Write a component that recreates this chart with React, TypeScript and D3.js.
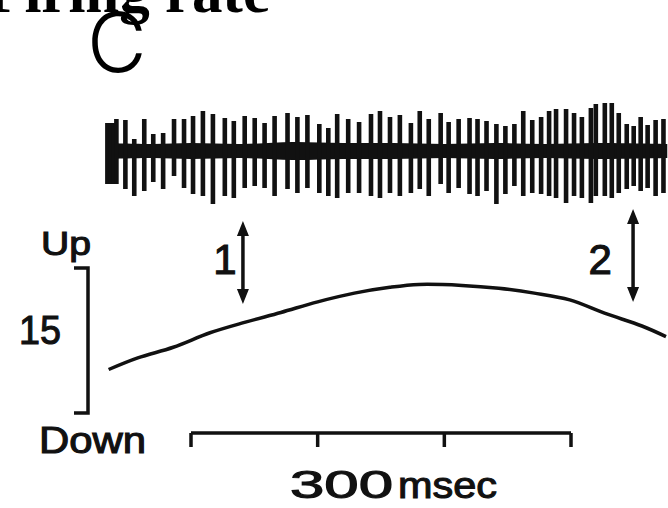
import React, { useEffect, useRef } from "react";
import * as d3 from "d3";

// spike train (time in ms relative to scale-bar start, amplitudes in trace units)
const spikeTimes = [
  -66.0, -63.6, -61.3, -58.9, -51.8, -44.8, -36.9, -29.8, -22.0, -13.4, -5.5, 1.6, 9.4, 17.3, 26.7, 33.8,
  42.4, 50.3, 58.1, 66.0, 76.2, 84.0, 91.9, 101.3, 108.4, 115.4, 124.1, 132.7, 142.1, 149.2,
  157.1, 164.9, 173.6, 180.6, 187.7, 197.1, 203.4, 211.3, 219.9, 226.2, 233.3, 241.1, 248.2, 255.3, 262.3,
  269.4, 276.4, 282.7, 288.2, 296.1, 302.4, 308.6, 315.7, 319.6, 326.7, 332.2, 337.7, 344.0, 349.5, 355.0,
  360.5, 366.8, 373.0,
];
const spikeUp = [
  28, 28, 28, 32, 31, 12, 32, 17, 18, 32, 32, 35, 40, 37, 33, 30,
  35, 33, 28, 35, 38, 34, 36, 27, 23, 37, 32, 29, 37, 40,
  34, 36, 28, 40, 32, 38, 29, 32, 33, 32, 30, 27, 25, 27, 40,
  31, 34, 40, 42, 42, 38, 34, 43, 47, 48, 48, 38, 27, 25, 34, 26, 31, 32,
];
const spikeDown = [
  33, 33, 33, 33, 38, 45, 40, 31, 38, 25, 37, 43, 45, 53, 45, 47,
  37, 35, 37, 45, 38, 42, 37, 42, 45, 47, 42, 42, 45, 47,
  42, 45, 42, 38, 45, 33, 42, 37, 43, 45, 40, 53, 43, 35, 45,
  42, 43, 45, 47, 52, 45, 47, 52, 45, 45, 47, 42, 38, 35, 40, 37, 45, 42,
];

// background noise band of the unit recording
const bandTimes = [-67, -30, 0, 40, 80, 120, 160, 200, 240, 280, 320, 376];
const bandHalf = [8, 7, 8, 7, 9, 8, 8, 7, 8, 7, 8, 7];

// eye position trace (deg)
const posTimes = [-65, -42, -14, 15, 43, 71, 100, 129, 157, 180, 214, 243, 271, 299, 327, 356, 375];
const posDeg = [4.5, 5.7, 6.8, 8.3, 9.4, 10.4, 11.5, 12.4, 13.0, 13.3, 13.2, 12.9, 12.4, 11.7, 10.3, 9.0, 7.9];

// events marked with arrows
const arrowTimes = [41, 349];
const arrowLabels = ["1", "2"];

// calibration
const scaleBarTicks = [0, 100, 200, 300];
const scaleBarLabel = "300";
const scaleBarUnit = "msec";
const calibDeg = 15;

const W = 668,
  H = 508;

const App = () => {
  const ref = useRef<SVGSVGElement>(null);

  useEffect(() => {
    const svg = d3.select(ref.current);
    svg.selectAll("*").remove();

    const x = d3.scaleLinear().domain([0, 300]).range([191, 571]);
    const yTrace = d3.scaleLinear().domain([-50, 50]).range([201, 101]);
    const yPos = d3.scaleLinear().domain([0, calibDeg]).range([413, 268]);
    const sans = "Liberation Sans, Arial, sans-serif";

    // title (cut off at the top of the figure)
    svg
      .append("text")
      .attr("x", 270)
      .attr("y", 12)
      .attr("text-anchor", "end")
      .attr("font-family", "Liberation Serif, Times New Roman, serif")
      .attr("font-weight", "bold")
      .attr("font-size", 61)
      .text("Firing rate");

    // panel letter
    svg
      .append("text")
      .attr("x", 87)
      .attr("y", 72)
      .attr("font-family", "Inter, sans-serif")
      .attr("font-weight", 300)
      .attr("font-size", 82)
      .text("C");

    // noise band
    const band = bandTimes.map((t, i) => ({ t, h: bandHalf[i] }));
    svg
      .append("path")
      .datum(band)
      .attr(
        "d",
        d3
          .area<{ t: number; h: number }>()
          .x((d) => x(d.t))
          .y0((d) => yTrace(-d.h))
          .y1((d) => yTrace(d.h))
          .curve(d3.curveCatmullRom)
      )
      .attr("fill", "#111");

    // spikes
    const spikes = spikeTimes.map((t, i) => ({ t, up: spikeUp[i], down: spikeDown[i] }));
    svg
      .append("g")
      .selectAll("rect")
      .data(spikes)
      .enter()
      .append("rect")
      .attr("x", (d) => x(d.t) - 2.3)
      .attr("width", 4.6)
      .attr("y", (d) => yTrace(d.up))
      .attr("height", (d) => yTrace(-d.down) - yTrace(d.up))
      .attr("fill", "#111");

    // eye position trace
    const pos = posTimes.map((t, i) => ({ t, v: posDeg[i] }));
    svg
      .append("path")
      .datum(pos)
      .attr(
        "d",
        d3
          .line<{ t: number; v: number }>()
          .x((d) => x(d.t))
          .y((d) => yPos(d.v))
          .curve(d3.curveCatmullRom)
      )
      .attr("fill", "none")
      .attr("stroke", "#111")
      .attr("stroke-width", 3.5);

    const label = (tx: number, ty: number, size: number, len: number | null, s: string, anchor = "start") => {
      const t = svg
        .append("text")
        .attr("x", tx)
        .attr("y", ty)
        .attr("text-anchor", anchor)
        .attr("font-family", sans)
        .attr("font-size", size)
        .attr("fill", "#111")
        .attr("stroke", "#111")
        .attr("stroke-width", 1.1)
        .text(s);
      if (len) t.attr("textLength", len).attr("lengthAdjust", "spacingAndGlyphs");
      return t;
    };

    // double-headed arrows
    const arrowTop = [221, 209];
    const arrowBottom = [304, 302];
    const labelDx = [-18, -33];
    arrowTimes.forEach((t, i) => {
      const ax = x(t);
      const g = svg.append("g");
      g.append("line")
        .attr("x1", ax)
        .attr("x2", ax)
        .attr("y1", arrowTop[i] + 6)
        .attr("y2", arrowBottom[i] - 6)
        .attr("stroke", "#111")
        .attr("stroke-width", 3.5);
      g.append("path")
        .attr("d", `M${ax},${arrowTop[i]} L${ax - 6},${arrowTop[i] + 15} L${ax + 6},${arrowTop[i] + 15} Z`)
        .attr("fill", "#111");
      g.append("path")
        .attr(
          "d",
          `M${ax},${arrowBottom[i]} L${ax - 6},${arrowBottom[i] - 15} L${ax + 6},${arrowBottom[i] - 15} Z`
        )
        .attr("fill", "#111");
      label(ax + labelDx[i], 274, 42, null, arrowLabels[i], "middle");
    });

    // vertical calibration bracket
    svg
      .append("path")
      .attr("d", `M74,${yPos(calibDeg)} H88 V${yPos(0)} H74`)
      .attr("fill", "none")
      .attr("stroke", "#111")
      .attr("stroke-width", 3.5);

    label(19, 344, 41, 42, String(calibDeg));
    label(41, 255, 33, 50, "Up");
    label(39, 453, 36, 107, "Down");

    // time scale bar
    const bar = svg.append("g").attr("transform", "translate(0,433)");
    bar
      .append("path")
      .attr("d", `M${x(0)},0 H${x(300)}`)
      .attr("stroke", "#111")
      .attr("stroke-width", 3.5);
    bar
      .selectAll("line")
      .data(scaleBarTicks)
      .enter()
      .append("line")
      .attr("x1", (d) => x(d))
      .attr("x2", (d) => x(d))
      .attr("y1", 0)
      .attr("y2", 14)
      .attr("stroke", "#111")
      .attr("stroke-width", 3.5);

    label(290, 498, 39, 103, scaleBarLabel);
    label(398, 498, 37, 99, scaleBarUnit);
  }, []);

  return (
    <svg
      ref={ref}
      width={W}
      height={H}
      style={{ position: "absolute", left: 0, top: 0, background: "#fff" }}
    />
  );
};

export default App;
